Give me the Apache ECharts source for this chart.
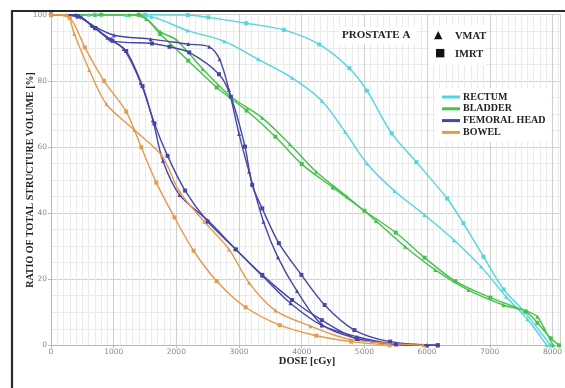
<!DOCTYPE html>
<html>
<head>
<meta charset="utf-8">
<script src="https://cdn.jsdelivr.net/npm/echarts@6/dist/echarts.min.js"></script>
<style>
html,body{margin:0;padding:0;background:#fff;}
#c{width:565px;height:388px;}
</style>
</head>
<body>
<div id="c"></div>
<script>
// ---- data: [dose cGy, ratio %] ----
var xTicks = [0,1000,2000,3000,4000,5000,6000,7000,8000];
var yTicks = [0,20,40,60,80,100];
var structures = ['RECTUM','BLADDER','FEMORAL HEAD','BOWEL'];
var techniques = ['VMAT','IMRT'];

var rectumVMAT = [[0,100],[600,100],[1200,99.9],[1600,99.4],[2180,95.2],[2760,92.0],[3305,86.5],[3845,80.9],[4320,74.0],[4690,64.6],[5040,55.0],[5480,46.7],[5960,39.4],[6430,31.8],[6860,23.8],[7260,14.7],[7600,7.9],[7910,0]];
var rectumIMRT = [[0,100],[700,100],[1500,100],[2180,99.9],[2510,99.2],[3115,97.4],[3715,95.4],[4280,91.0],[4760,83.8],[5040,77.0],[5435,64.1],[5830,55.4],[6320,44.4],[6580,36.9],[6900,26.8],[7220,16.9],[7550,10.2],[7970,0]];

var bladderVMAT = [[0,100],[700,100],[1250,100],[1520,98.7],[1745,94.8],[2005,92.3],[2420,83.6],[2870,75.2],[3370,68.8],[3810,60.8],[4230,52.5],[4720,45.0],[5185,37.6],[5650,29.8],[6130,22.8],[6660,16.7],[7220,12.2],[7580,10.4],[7760,8.6],[7870,5.0],[8010,0]];
var bladderIMRT = [[0,100],[800,100],[1400,100],[1745,94.1],[2190,86.1],[2645,78.0],[3120,71.0],[3580,63.1],[4000,54.8],[4500,47.7],[5000,40.7],[5500,34.1],[5960,26.5],[6450,19.4],[7010,14.4],[7575,10.2],[7760,6.8],[7975,2.1],[8105,0]];

var femoralAVMAT = [[0,100],[400,100],[490,99.2],[660,96.6],[900,93.0],[1160,89.6],[1430,79.4],[1625,68.1],[1785,55.8],[2050,45.5],[2500,37.8],[2935,29.3],[3370,21.0],[3820,12.7],[4320,6.0],[4880,2.6],[5410,0.6],[6000,0]];
var femoralAIMRT = [[0,100],[420,99.6],[710,95.9],[950,92.5],[1200,89.0],[1460,78.4],[1650,67.1],[1860,57.3],[2140,46.8],[2500,37.4],[2950,29.0],[3370,21.3],[3845,13.7],[4320,7.6],[4880,2.0],[5500,0.3],[6170,0]];
var femoralBVMAT = [[0,100],[430,99.6],[645,96.9],[1005,93.8],[1590,92.6],[2190,91.1],[2525,90.3],[2690,86.5],[2840,77.2],[3000,63.9],[3160,52.5],[3390,37.4],[3620,26.6],[3925,16.4],[4320,6.3],[4900,1.9],[5510,0.3],[6000,0]];
var femoralBIMRT = [[0,100],[430,99.4],[700,96.0],[980,92.1],[1610,91.3],[1890,90.3],[2205,88.6],[2680,82.0],[2870,75.2],[3095,60.1],[3210,48.5],[3370,41.4],[3635,30.9],[3995,21.3],[4365,12.2],[4840,4.6],[5410,1.1],[6170,0]];

var bowelVMAT = [[0,100],[250,100],[370,94.2],[610,83.3],[885,72.9],[1330,65.1],[1770,57.3],[2050,46.5],[2445,37.4],[2840,29.0],[3160,18.9],[3580,10.5],[4140,5.8],[4770,1.8],[5940,0]];
var bowelIMRT = [[0,100],[300,99.0],[540,90.1],[845,80.0],[1200,70.7],[1440,59.9],[1680,49.2],[1970,38.7],[2275,28.6],[2645,19.4],[3105,11.5],[3650,6.1],[4235,2.9],[4790,1.1],[5400,0]];

// ---- styling ----
var colors = {'RECTUM':'#52d6dc','BLADDER':'#46c24a','FEMORAL HEAD':'#4646a6','BOWEL':'#e59a4c'};
var serif = '"Liberation Serif","DejaVu Serif",serif';

function mk(name, data, tech){
  return {
    name: name, type: 'line', data: data,
    smooth: 0.3,
    symbol: tech === 'VMAT' ? 'triangle' : 'rect',
    symbolSize: 4,
    showSymbol: true,
    lineStyle: {width: 1.4, color: colors[name]},
    itemStyle: {color: colors[name]},
    z: 3
  };
}

var series = [
  mk('RECTUM', rectumVMAT, 'VMAT'), mk('RECTUM', rectumIMRT, 'IMRT'),
  mk('BLADDER', bladderVMAT, 'VMAT'), mk('BLADDER', bladderIMRT, 'IMRT'),
  mk('FEMORAL HEAD', femoralAVMAT, 'VMAT'), mk('FEMORAL HEAD', femoralAIMRT, 'IMRT'),
  mk('FEMORAL HEAD', femoralBVMAT, 'VMAT'), mk('FEMORAL HEAD', femoralBIMRT, 'IMRT'),
  mk('BOWEL', bowelVMAT, 'VMAT'), mk('BOWEL', bowelIMRT, 'IMRT')
];

var chart = echarts.init(document.getElementById('c'), null, {renderer:'canvas'});
chart.setOption({
  animation: false,
  backgroundColor: '#ffffff',
  grid: {left: 51, top: 14.7, right: 1, bottom: 42.7, containLabel: false},
  xAxis: {
    type: 'value', min: 0, max: 8130, interval: 1000,
    axisLine: {show: true, lineStyle: {color: '#b8b8b8', width: 1}},
    axisTick: {show: true, length: 3, lineStyle: {color: '#b8b8b8'}},
    axisLabel: {color: '#888', fontSize: 7.5, margin: 3, fontFamily: 'DejaVu Sans', showMaxLabel: false,
      formatter: function(v){ return xTicks.indexOf(v) >= 0 ? String(v) : ''; }},
    splitLine: {show: true, lineStyle: {color: '#cfcfcf', width: 1}},
    minorTick: {show: false, splitNumber: 10},
    minorSplitLine: {show: true, lineStyle: {color: '#ebebeb', width: 1}}
  },
  yAxis: {
    type: 'value', min: 0, max: 100, interval: 20,
    axisLine: {show: true, lineStyle: {color: '#b8b8b8', width: 1}},
    axisTick: {show: true, length: 3, lineStyle: {color: '#b8b8b8'}},
    axisLabel: {color: '#888', fontSize: 7.5, margin: 4, fontFamily: 'DejaVu Sans',
      formatter: function(v){ return yTicks.indexOf(v) >= 0 ? String(v) : ''; }},
    splitLine: {show: true, lineStyle: {color: '#cfcfcf', width: 1}},
    minorTick: {show: false, splitNumber: 4},
    minorSplitLine: {show: true, lineStyle: {color: '#ebebeb', width: 1}}
  },
  legend: {
    data: structures,
    orient: 'vertical', left: 436, top: 88,
    itemWidth: 18, itemHeight: 3, itemGap: 1.8,
    icon: 'rect',
    padding: [4, 6, 4, 6],
    backgroundColor: '#ffffff',
    textStyle: {fontFamily: serif, fontWeight: 'bold', fontSize: 10, color: '#222', padding: [0,0,0,-2]},
    selectedMode: false
  },
  graphic: [
    {type: 'polyline', shape: {points: [[12,388],[12,11],[565,11]]}, style: {stroke: '#2a2a2a', lineWidth: 2.2, fill: null}, z: 10},
    {type: 'rect', shape: {x: 339, y: 27, width: 78, height: 17}, style: {fill: '#ffffff'}, z: 5},
    {type: 'text', x: 342, y: 35.5, style: {text: 'PROSTATE A', font: 'bold 11px ' + serif, fill: '#222', textVerticalAlign: 'middle'}, z: 6},
    {type: 'rect', shape: {x: 430, y: 25, width: 55, height: 40}, style: {fill: '#ffffff'}, z: 5},
    {type: 'text', x: 434, y: 35.5, style: {text: '▲', font: '11px "DejaVu Sans"', fill: '#111', textVerticalAlign: 'middle'}, z: 6},
    {type: 'text', x: 455, y: 36, style: {text: techniques[0], font: 'bold 10.5px ' + serif, fill: '#222', textVerticalAlign: 'middle'}, z: 6},
    {type: 'text', x: 435, y: 53, style: {text: '■', font: '11px "DejaVu Sans"', fill: '#111', textVerticalAlign: 'middle'}, z: 6},
    {type: 'text', x: 455, y: 54, style: {text: techniques[1], font: 'bold 10.5px ' + serif, fill: '#222', textVerticalAlign: 'middle'}, z: 6},
    {type: 'text', x: 30, y: 180, rotation: Math.PI/2, style: {text: 'RATIO OF TOTAL STRUCTURE VOLUME [%]', font: 'bold 10px ' + serif, fill: '#222', textAlign: 'center', textVerticalAlign: 'middle'}, z: 6},
    {type: 'text', x: 307, y: 361, style: {text: 'DOSE [cGy]', font: 'bold 10.5px ' + serif, fill: '#222', textAlign: 'center', textVerticalAlign: 'middle'}, z: 6}
  ],
  series: series
});
</script>
</body>
</html>
